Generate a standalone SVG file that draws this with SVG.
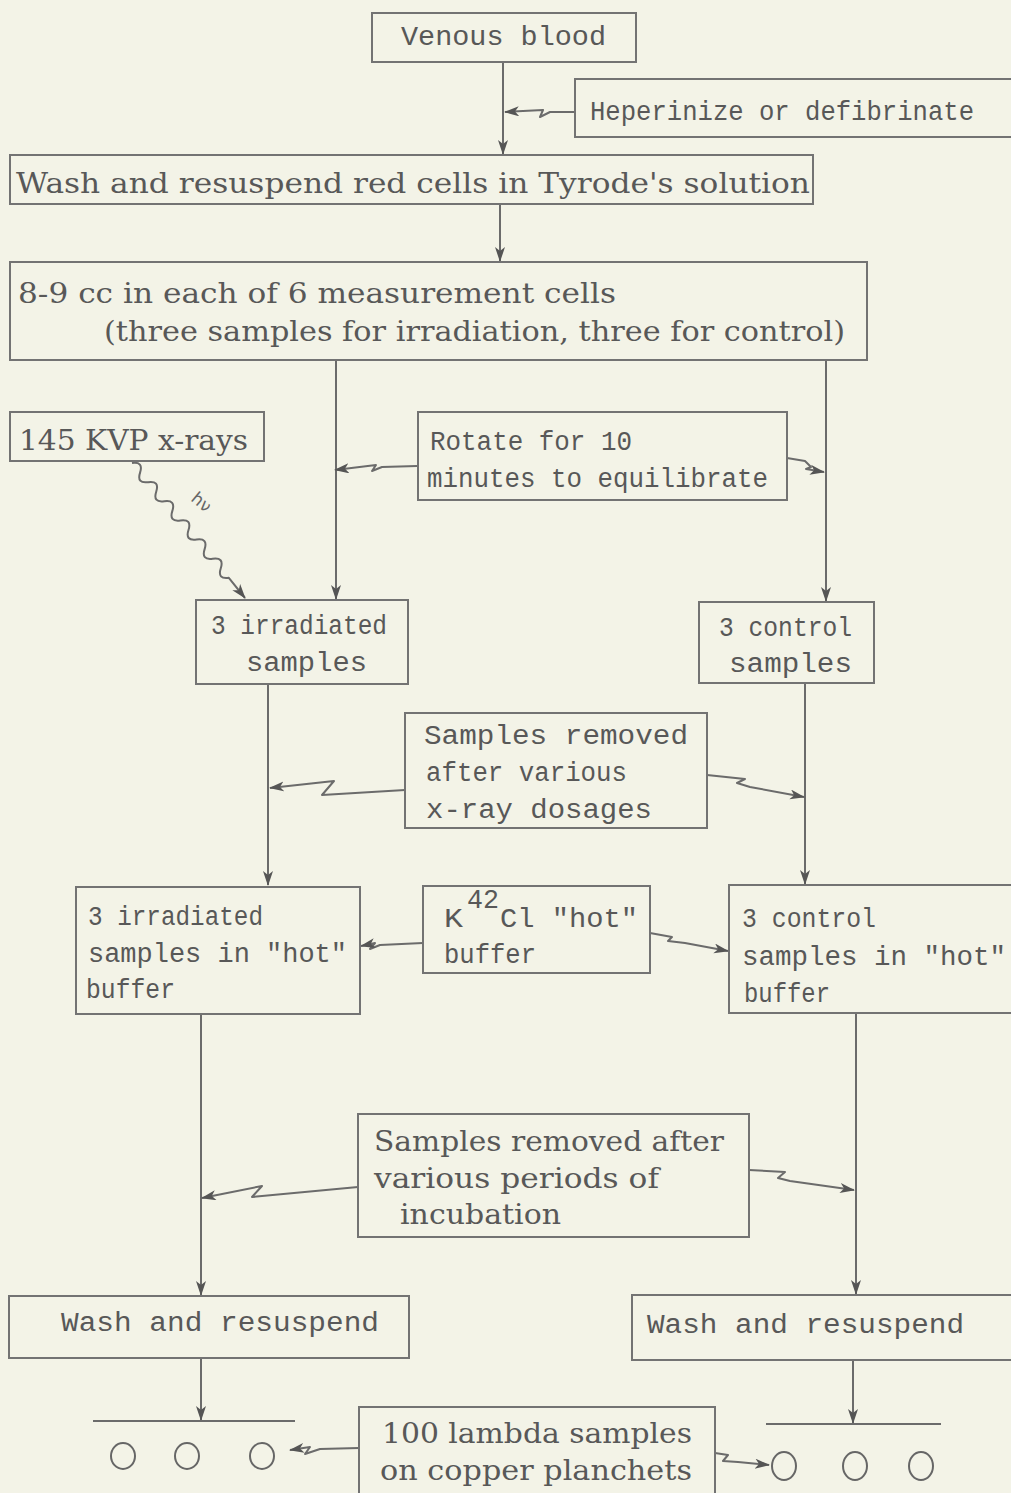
<svg xmlns="http://www.w3.org/2000/svg" width="1011" height="1493" viewBox="0 0 1011 1493">
<style>
.bx{fill:none;stroke:#737373;stroke-width:2}
.ln{fill:none;stroke:#6b6b6b;stroke-width:2;stroke-linejoin:round}
.t{font-family:"Liberation Mono",monospace;font-size:27px;fill:#585858}
.s{font-family:"DejaVu Serif","Liberation Serif",serif;font-size:27px;fill:#585858}
</style>
<defs>
<marker id="ah" markerUnits="userSpaceOnUse" markerWidth="16" markerHeight="12" refX="14" refY="5" orient="auto">
<path d="M0,0 L15,5 L0,10 L4,5 z" fill="#555"/>
</marker>
</defs>
<rect x="0" y="0" width="1011" height="1493" fill="#f3f3e7"/>

<g id="connectors">
<path class="ln" d="M503,62 V154" marker-end="url(#ah)"/>
<path class="ln" d="M575,112 L550,112 L540,117 L543,110 L505,112" marker-end="url(#ah)"/>
<path class="ln" d="M500,204 V261" marker-end="url(#ah)"/>
<path class="ln" d="M336,360 V599" marker-end="url(#ah)"/>
<path class="ln" d="M826,360 V601" marker-end="url(#ah)"/>
<path class="ln" d="M417,466 L382,467 L372,471 L376,465 L335,470" marker-end="url(#ah)"/>
<path class="ln" d="M787,458 L805,461 L811,467 L806,469 L824,472" marker-end="url(#ah)"/>
<path class="ln" d="M132,463 q11.7,-1.68 8.07,9.57 t8.07,9.57 t8.07,9.57 t8.07,9.57 t8.07,9.57 t8.07,9.57 t8.07,9.57 t8.07,9.57 t8.07,9.57 t8.07,9.57 t8.07,9.57 t8.07,9.57 L245,598" marker-end="url(#ah)"/>
<path class="ln" d="M268,684 V885" marker-end="url(#ah)"/>
<path class="ln" d="M805,682 V884" marker-end="url(#ah)"/>
<path class="ln" d="M405,790 L322,795 L334,781 L270,788" marker-end="url(#ah)"/>
<path class="ln" d="M707,775 L745,779 L737,783 L750,787 L804,797" marker-end="url(#ah)"/>
<path class="ln" d="M423,943 L380,945 L370,949 L375,943 L361,946" marker-end="url(#ah)"/>
<path class="ln" d="M650,933 L672,937 L668,941 L685,943 L728,951" marker-end="url(#ah)"/>
<path class="ln" d="M201,1014 V1295" marker-end="url(#ah)"/>
<path class="ln" d="M856,1013 V1294" marker-end="url(#ah)"/>
<path class="ln" d="M358,1187 L252,1197 L262,1186 L202,1198" marker-end="url(#ah)"/>
<path class="ln" d="M749,1170 L785,1172 L778,1178 L790,1181 L854,1190" marker-end="url(#ah)"/>
<path class="ln" d="M201,1358 V1420" marker-end="url(#ah)"/>
<path class="ln" d="M93,1421 H295"/>
<path class="ln" d="M853,1360 V1423" marker-end="url(#ah)"/>
<path class="ln" d="M766,1424 H941"/>
<path class="ln" d="M359,1448 L320,1449 L305,1454 L310,1447 L290,1450" marker-end="url(#ah)"/>
<path class="ln" d="M715,1453 L728,1455 L723,1461 L738,1462 L769,1465" marker-end="url(#ah)"/>
<text x="0" y="0" transform="translate(190,500) rotate(40)" style="font-family:'DejaVu Sans',sans-serif;font-size:17px;fill:#666">hν</text>
</g>

<g id="venous"><rect class="bx" x="372" y="13" width="264" height="49"/>
<text class="t" x="401" y="45" font-size="29" textLength="205" lengthAdjust="spacingAndGlyphs">Venous blood</text></g>

<g id="heperinize"><path class="bx" d="M1012,79 H575 V137 H1012"/>
<text class="t" x="590" y="120" font-size="26" textLength="384" lengthAdjust="spacingAndGlyphs">Heperinize or defibrinate</text></g>

<g id="wash1"><rect class="bx" x="10" y="155" width="803" height="49"/>
<text class="s" x="16" y="193" textLength="794" lengthAdjust="spacingAndGlyphs">Wash and resuspend red cells in Tyrode's solution</text></g>

<g id="cells"><rect class="bx" x="10" y="262" width="857" height="98"/>
<text class="s" x="18" y="303" textLength="598" lengthAdjust="spacingAndGlyphs">8-9 cc in each of 6 measurement cells</text>
<text class="s" x="104" y="341" textLength="741" lengthAdjust="spacingAndGlyphs">(three samples for irradiation, three for control)</text></g>

<g id="xrays"><rect class="bx" x="10" y="412" width="254" height="49"/>
<text class="s" x="19" y="450" textLength="229" lengthAdjust="spacingAndGlyphs">145 KVP x-rays</text></g>

<g id="rotate"><rect class="bx" x="418" y="412" width="369" height="88"/>
<text class="t" x="430" y="450" textLength="202" lengthAdjust="spacingAndGlyphs">Rotate for 10</text>
<text class="t" x="427" y="487" textLength="341" lengthAdjust="spacingAndGlyphs">minutes to equilibrate</text></g>

<g id="irr"><rect class="bx" x="196" y="600" width="212" height="84"/>
<text class="t" x="211" y="634" textLength="176" lengthAdjust="spacingAndGlyphs">3 irradiated</text>
<text class="t" x="246" y="671" textLength="121" lengthAdjust="spacingAndGlyphs">samples</text></g>

<g id="ctrl"><rect class="bx" x="699" y="602" width="175" height="81"/>
<text class="t" x="719" y="636" textLength="133" lengthAdjust="spacingAndGlyphs">3 control</text>
<text class="t" x="729" y="672" textLength="123" lengthAdjust="spacingAndGlyphs">samples</text></g>

<g id="dosage"><rect class="bx" x="405" y="713" width="302" height="115"/>
<text class="t" x="424" y="744" textLength="264" lengthAdjust="spacingAndGlyphs">Samples removed</text>
<text class="t" x="426" y="781" textLength="201" lengthAdjust="spacingAndGlyphs">after various</text>
<text class="t" x="426" y="818" textLength="226" lengthAdjust="spacingAndGlyphs">x-ray dosages</text></g>

<g id="irrhot"><rect class="bx" x="76" y="887" width="284" height="127"/>
<text class="t" x="88" y="925" textLength="175" lengthAdjust="spacingAndGlyphs">3 irradiated</text>
<text class="t" x="88" y="962" textLength="259" lengthAdjust="spacingAndGlyphs">samples in "hot"</text>
<text class="t" x="86" y="998" textLength="89" lengthAdjust="spacingAndGlyphs">buffer</text></g>

<g id="k42"><rect class="bx" x="423" y="886" width="227" height="87"/>
<text class="t" x="444" y="927" textLength="19" lengthAdjust="spacingAndGlyphs">K</text>
<text class="t" x="467" y="908" font-size="23" textLength="32" lengthAdjust="spacingAndGlyphs">42</text>
<text class="t" x="500" y="927" textLength="138" lengthAdjust="spacingAndGlyphs">Cl "hot"</text>
<text class="t" x="444" y="963" textLength="92" lengthAdjust="spacingAndGlyphs">buffer</text></g>

<g id="ctrlhot"><path class="bx" d="M1012,885 H729 V1013 H1012"/>
<text class="t" x="742" y="927" textLength="134" lengthAdjust="spacingAndGlyphs">3 control</text>
<text class="t" x="742" y="965" textLength="264" lengthAdjust="spacingAndGlyphs">samples in "hot"</text>
<text class="t" x="744" y="1002" textLength="86" lengthAdjust="spacingAndGlyphs">buffer</text></g>

<g id="incub"><rect class="bx" x="358" y="1114" width="391" height="123"/>
<text class="s" x="374" y="1151" textLength="350" lengthAdjust="spacingAndGlyphs">Samples removed after</text>
<text class="s" x="374" y="1188" textLength="285" lengthAdjust="spacingAndGlyphs">various periods of</text>
<text class="s" x="400" y="1224" textLength="161" lengthAdjust="spacingAndGlyphs">incubation</text></g>

<g id="washL"><rect class="bx" x="9" y="1296" width="400" height="62"/>
<text class="t" x="61" y="1331" textLength="318" lengthAdjust="spacingAndGlyphs">Wash and resuspend</text></g>

<g id="washR"><path class="bx" d="M1012,1295 H632 V1360 H1012"/>
<text class="t" x="647" y="1333" textLength="317" lengthAdjust="spacingAndGlyphs">Wash and resuspend</text></g>

<g id="lambda"><path class="bx" d="M359,1494 V1407 H715 V1494"/>
<text class="s" x="382" y="1443" textLength="310" lengthAdjust="spacingAndGlyphs">100 lambda samples</text>
<text class="s" x="380" y="1480" textLength="312" lengthAdjust="spacingAndGlyphs">on copper planchets</text></g>

<g id="planchetsL" fill="none" stroke="#666" stroke-width="2">
<ellipse cx="123" cy="1456" rx="12" ry="13"/>
<ellipse cx="187" cy="1456" rx="12" ry="13"/>
<ellipse cx="262" cy="1456" rx="12" ry="13"/>
</g>
<g id="planchetsR" fill="none" stroke="#666" stroke-width="2">
<ellipse cx="784" cy="1466" rx="12" ry="14"/>
<ellipse cx="855" cy="1466" rx="12" ry="14"/>
<ellipse cx="921" cy="1466" rx="12" ry="14"/>
</g>
</svg>
